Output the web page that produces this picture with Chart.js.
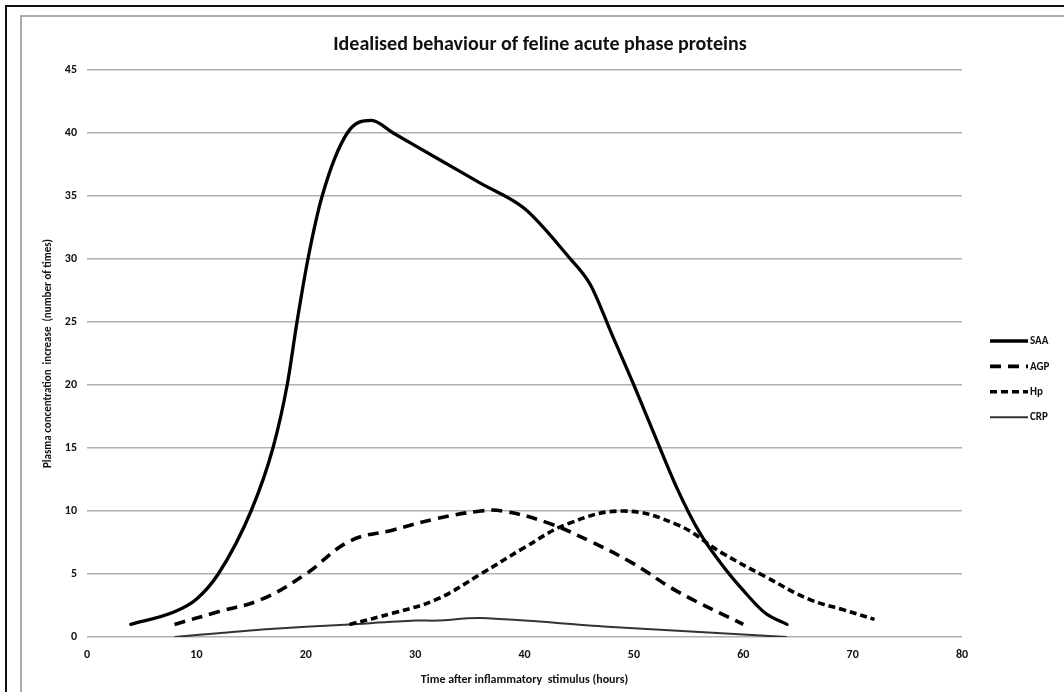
<!DOCTYPE html>
<html><head><meta charset="utf-8">
<script src="https://cdn.jsdelivr.net/npm/chart.js@4.4.1/dist/chart.umd.min.js"></script>
<style>
html,body{margin:0;padding:0;background:#fff;width:1064px;height:692px;overflow:hidden}
#outer{position:absolute;left:5px;top:5px;width:1059px;height:687px;border-top:2px solid #111;border-left:2px solid #111;box-sizing:border-box}
#inner{position:absolute;left:20px;top:15px;width:1044px;height:677px;border-top:2px solid #aaa;border-left:2px solid #aaa;box-sizing:border-box}
#wrap{position:absolute;left:0;top:0;width:1042px;height:675px}
</style></head><body>
<div id="outer"></div>
<div id="inner"><div id="wrap"><canvas id="c"></canvas></div></div>
<script>
const chartTitle = 'Idealised behaviour of feline acute phase proteins';
const xTitle = 'Time after inflammatory  stimulus (hours)';
const yTitle = 'Plasma concentration  increase  (number of times)';
const seriesNames = ['SAA', 'AGP', 'Hp', 'CRP'];

const saaHours  = [4, 8, 10, 12, 15, 17, 18.3, 19.2, 20.2, 21.5, 23.8, 26, 28, 32, 36, 40, 44, 46, 48, 50, 52, 54, 56, 58, 60, 62, 64];
const saaValues = [1, 2, 3, 5, 10, 15, 20, 25, 30, 35, 40, 41, 40, 38, 36, 34, 30.2, 28, 24, 20, 15.8, 11.7, 8.3, 5.8, 3.7, 1.9, 1];

const agpHours  = [8, 12, 16, 20, 24, 28, 32, 36, 38, 42, 46, 50, 54, 60];
const agpValues = [1, 2, 3, 5, 7.6, 8.5, 9.4, 10, 10, 9.1, 7.6, 5.8, 3.6, 1];

const hpHours  = [24, 28, 32, 36, 40, 44, 49, 54, 58, 62, 66, 69, 72];
const hpValues = [1, 1.9, 3, 5, 7.1, 9, 10, 8.9, 6.7, 4.8, 3, 2.2, 1.4];

const crpHours  = [8, 12, 16, 24, 30, 32, 36, 48, 64];
const crpValues = [0, 0.3, 0.6, 1, 1.3, 1.3, 1.5, 0.8, 0];

const xTicks = [0, 10, 20, 30, 40, 50, 60, 70, 80];
const yTicks = [0, 5, 10, 15, 20, 25, 30, 35, 40, 45];

const pts = (xs, ys) => xs.map((x, i) => ({x: x, y: ys[i]}));
const FONT = "Carlito, 'Liberation Sans Narrow', 'DejaVu Sans Condensed', sans-serif";

const sideLegend = {
  id: 'sideLegend',
  afterDraw(chart) {
    const ctx = chart.ctx, a = chart.chartArea;
    const x0 = a.right + 28, len = 38;
    chart.data.datasets.forEach((ds, i) => {
      const y = a.top + 271 + i * 25.4;
      ctx.save();
      ctx.strokeStyle = ds.borderColor;
      ctx.lineWidth = ds.borderWidth;
      ctx.setLineDash(ds.borderDash || []);
      ctx.beginPath(); ctx.moveTo(x0, y); ctx.lineTo(x0 + len, y); ctx.stroke();
      ctx.setLineDash([]);
      ctx.fillStyle = '#111';
      ctx.font = "bold 11px " + FONT;
      ctx.textBaseline = 'middle';
      ctx.fillText(ds.label, x0 + len + 2, y + 0.5);
      ctx.restore();
    });
  }
};

new Chart(document.getElementById('c'), {
  type: 'line',
  data: {
    datasets: [
      {label: seriesNames[0], data: pts(saaHours, saaValues), borderColor: '#000', borderWidth: 3.3, cubicInterpolationMode: 'monotone', pointRadius: 0, borderCapStyle: 'round'},
      {label: seriesNames[1], data: pts(agpHours, agpValues), borderColor: '#000', borderWidth: 3.6, borderDash: [11, 7], tension: 0.4, pointRadius: 0},
      {label: seriesNames[2], data: pts(hpHours, hpValues), borderColor: '#000', borderWidth: 3.6, borderDash: [7, 4], tension: 0.4, pointRadius: 0},
      {label: seriesNames[3], data: pts(crpHours, crpValues), borderColor: '#333', borderWidth: 2, tension: 0.3, pointRadius: 0}
    ]
  },
  options: {
    responsive: true, maintainAspectRatio: false, animation: false,
    layout: {padding: {left: 20, right: 26, top: 0, bottom: 5}},
    plugins: {
      legend: {display: false},
      tooltip: {enabled: false},
      title: {display: true, text: chartTitle, color: '#111', font: {family: FONT, size: 20, weight: 'bold'}, padding: {top: 16, bottom: 13}}
    },
    scales: {
      x: {
        type: 'linear', min: 0, max: 80,
        afterBuildTicks: s => { s.ticks = xTicks.map(v => ({value: v})); },
        afterFit: s => { s.height = 50; },
        grid: {display: false, drawTicks: false},
        border: {display: false},
        ticks: {color: '#111', padding: 11, font: {family: FONT, size: 12, weight: 'bold'}, maxRotation: 0},
        title: {display: true, text: xTitle, color: '#111', padding: {top: 3, bottom: 0}, font: {family: FONT, size: 12, weight: 'bold'}}
      },
      y: {
        min: 0, max: 45,
        afterBuildTicks: s => { s.ticks = yTicks.map(v => ({value: v})); },
        afterFit: s => { s.width = 45; },
        grid: {color: '#b0b0b0', lineWidth: 1.5, drawTicks: false},
        border: {display: false},
        ticks: {color: '#111', padding: 10, font: {family: FONT, size: 12, weight: 'bold'}},
        title: {display: true, text: yTitle, color: '#111', padding: {top: 0, bottom: 3}, font: {family: FONT, size: 11, weight: 'bold'}}
      },
      legendSpace: {
        position: 'right', min: 0, max: 1,
        afterFit: s => { s.width = 76; },
        grid: {display: false, drawTicks: false},
        border: {display: false},
        ticks: {display: false}
      }
    }
  },
  plugins: [sideLegend]
});
</script>
</body></html>
